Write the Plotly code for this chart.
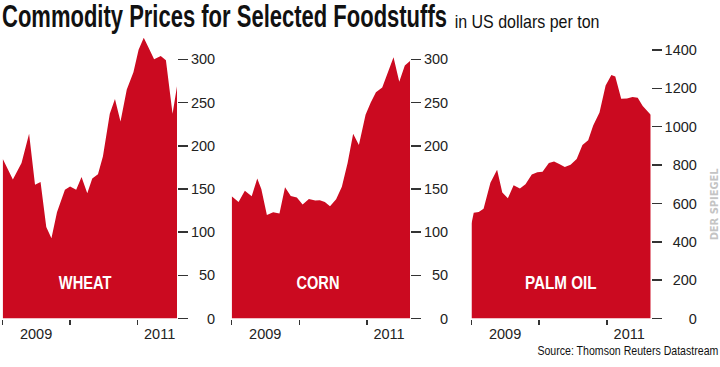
import json
import plotly.graph_objects as go

# ---------------- data ----------------
panel_names = ["WHEAT", "CORN", "PALM OIL"]

wheat_dates = ["2009-01-01", "2009-02-25", "2009-04-13", "2009-04-22", "2009-05-24", "2009-06-25",
               "2009-07-25", "2009-08-25", "2009-09-22", "2009-10-22", "2009-12-04", "2010-01-01",
               "2010-02-03", "2010-03-04", "2010-04-04", "2010-05-01", "2010-06-01", "2010-06-28",
               "2010-08-04", "2010-09-01", "2010-10-01", "2010-11-04", "2010-12-10", "2011-01-07",
               "2011-02-04", "2011-03-01", "2011-04-01", "2011-05-07", "2011-06-04", "2011-07-10",
               "2011-08-03"]
wheat_values = [185, 161, 180, 188, 214, 155, 158, 106, 93, 123, 149, 153,
                149, 164, 145, 162, 167, 188, 237, 254, 228, 265, 285, 311,
                325, 314, 300, 304, 299, 237, 269]

corn_dates = ["2009-01-01", "2009-02-07", "2009-03-13", "2009-04-19", "2009-05-19", "2009-06-10",
              "2009-07-10", "2009-08-13", "2009-09-16", "2009-10-16", "2009-11-16", "2009-12-19",
              "2010-01-19", "2010-02-22", "2010-03-28", "2010-04-22", "2010-05-19", "2010-06-16",
              "2010-07-19", "2010-08-19", "2010-09-19", "2010-10-19", "2010-11-19", "2010-12-25",
              "2011-01-22", "2011-02-19", "2011-03-25", "2011-04-22", "2011-05-25", "2011-06-25",
              "2011-07-25", "2011-08-22"]
corn_values = [141.5, 135, 148, 141.5, 162, 150, 120, 123, 121.5, 152, 142, 140,
               132, 138.5, 136.6, 137, 135, 130, 138, 152.5, 180, 214, 201, 236,
               250, 262, 267.5, 284, 302.6, 274, 293, 298]

palm_dates = ["2009-01-01", "2009-01-13", "2009-02-09", "2009-03-07", "2009-04-13", "2009-05-19",
              "2009-06-16", "2009-07-16", "2009-08-16", "2009-09-19", "2009-10-19", "2009-11-22",
              "2009-12-22", "2010-01-19", "2010-02-22", "2010-03-22", "2010-04-19", "2010-05-19",
              "2010-06-19", "2010-07-22", "2010-08-22", "2010-09-22", "2010-10-19", "2010-11-22",
              "2010-12-25", "2011-01-25", "2011-02-15", "2011-03-19", "2011-04-19", "2011-05-19",
              "2011-06-16", "2011-07-13", "2011-08-25"]
palm_values = [496, 552, 556, 572, 708, 776, 657, 627, 695, 678, 700, 751,
               763, 765, 810, 819, 805, 790, 802, 831, 904, 929, 1006, 1074,
               1215, 1269, 1261, 1145, 1147, 1154, 1150, 1108, 1062]

year_starts = ["2009-01-01", "2010-01-01", "2011-01-01"]
year_label_dates = ["2009-07-01", "2011-05-01"]
year_labels = ["2009", "2011"]

grain_ticks = [0, 50, 100, 150, 200, 250, 300]
palm_ticks = [0, 200, 400, 600, 800, 1000, 1200, 1400]

title_text = "Commodity Prices for Selected Foodstuffs"
subtitle_text = "in US dollars per ton"
source_text = "Source: Thomson Reuters Datastream"
brand_text = "DER SPIEGEL"

# ---------------- style ----------------
RED = "#CB0A20"
INK = "#222222"
W, H = 720, 367


def pad(vals, width):
    return ["\u2007" * (width - len(str(v))) + str(v) for v in vals]


fig = go.Figure()
series = [(wheat_dates, wheat_values), (corn_dates, corn_values), (palm_dates, palm_values)]
for i, (d, v) in enumerate(series):
    sfx = "" if i == 0 else str(i + 1)
    fig.add_trace(go.Scatter(x=d, y=v, mode="lines", fill="tozeroy", fillcolor=RED,
                             line=dict(width=0, color=RED), xaxis="x" + sfx, yaxis="y" + sfx,
                             hoverinfo="skip", showlegend=False))

x_domains = [[2.7 / W, 177 / W], [231.7 / W, 410 / W], [471.5 / W, 650.7 / W]]
y_domain = [1 - 325.7 / H, 1 - 34.2 / H]
y_ranges = [[0, 330], [0, 330], [0, 1485.6]]
tick_sets = [(grain_ticks, 3), (grain_ticks, 3), (palm_ticks, 4)]

layout = dict(width=W, height=H, autosize=False, margin=dict(l=0, r=0, t=0, b=0),
              paper_bgcolor="white", plot_bgcolor="rgba(0,0,0,0)", showlegend=False,
              hovermode=False)
for i in range(3):
    sfx = "" if i == 0 else str(i + 1)
    d = series[i][0]
    layout["xaxis" + sfx] = dict(
        type="date", domain=x_domains[i], range=[d[0], d[-1]], anchor="y" + sfx,
        tickmode="array", tickvals=year_label_dates, ticktext=year_labels,
        ticks="", ticklabelstandoff=5,
        tickfont=dict(family="Liberation Sans", size=14.5, color=INK),
        minor=dict(tickmode="array", tickvals=year_starts, ticks="outside", ticklen=5,
                   tickwidth=1.5, tickcolor="#333333", showgrid=False),
        showgrid=False, zeroline=False, showline=False, fixedrange=True)
    tv, wd = tick_sets[i]
    layout["yaxis" + sfx] = dict(
        domain=y_domain, range=y_ranges[i], anchor="x" + sfx, side="right",
        tickmode="array", tickvals=tv, ticktext=pad(tv, wd),
        ticks="outside", ticklen=10, tickwidth=1.5, tickcolor="#333333",
        tickfont=dict(family="Liberation Sans", size=14.5, color=INK),
        showgrid=False, zeroline=False, showline=False, fixedrange=True)

annotations = [
    dict(text=title_text, x=224.5 / W, y=1 - 16.9 / H, xanchor="center", yanchor="middle",
         font=dict(family="Liberation Sans", size=31, color="#111111", weight="bold")),
    dict(text=subtitle_text, x=526.5 / W, y=1 - 21.5 / H, xanchor="center", yanchor="middle",
         font=dict(family="Liberation Sans", size=19, color="#111111")),
    dict(text=source_text, x=627.5 / W, y=0, xanchor="center", yanchor="bottom",
         font=dict(family="Liberation Sans", size=12.5, color="#111111")),
    dict(text=brand_text, x=714 / W, y=1 - 209 / H, xanchor="center", yanchor="middle",
         textangle=-90, font=dict(family="DejaVu Sans", size=11, color="#c4c4c4", weight="bold")),
]
label_x = [85.5 / W, 317.7 / W, 561 / W]
for name, lx in zip(panel_names, label_x):
    annotations.append(dict(text=name, x=lx, y=1 - 289 / H, xanchor="center", yanchor="middle",
                            font=dict(family="Liberation Sans", size=19, color="white",
                                      weight="bold")))
for a in annotations:
    a.update(xref="paper", yref="paper", showarrow=False, borderpad=0)
layout["annotations"] = annotations
fig.update_layout(**layout)

# condensed-type look: squeeze some texts horizontally to the reference widths
text_widths = {title_text: 445, subtitle_text: 145, source_text: 181, brand_text: 72,
               "WHEAT": 53, "CORN": 43, "PALM OIL": 72}
post = """
document.body.style.margin = '0';
var gd = document.getElementById('{plot_id}');
var L = %s;
gd.querySelectorAll('text.annotation-text').forEach(function(t){
  var k = t.textContent;
  if (!L[k]) return;
  var bb = t.getBBox();
  var s = L[k] / bb.width;
  var cx = bb.x + bb.width / 2;
  var prev = t.getAttribute('transform') || '';
  t.setAttribute('transform', prev + ' translate(' + cx + ',0) scale(' + s + ',1) translate(' + (-cx) + ',0)');
  var r = t.parentNode.querySelector('rect.bg');
  if (r) {
    r.setAttribute('x', cx - L[k] / 2); r.setAttribute('width', L[k]);
    r.setAttribute('y', bb.y); r.setAttribute('height', bb.height);
  }
});
""" % json.dumps(text_widths)

fig.write_html("out.html", config={"displayModeBar": False, "staticPlot": True}, post_script=post)
